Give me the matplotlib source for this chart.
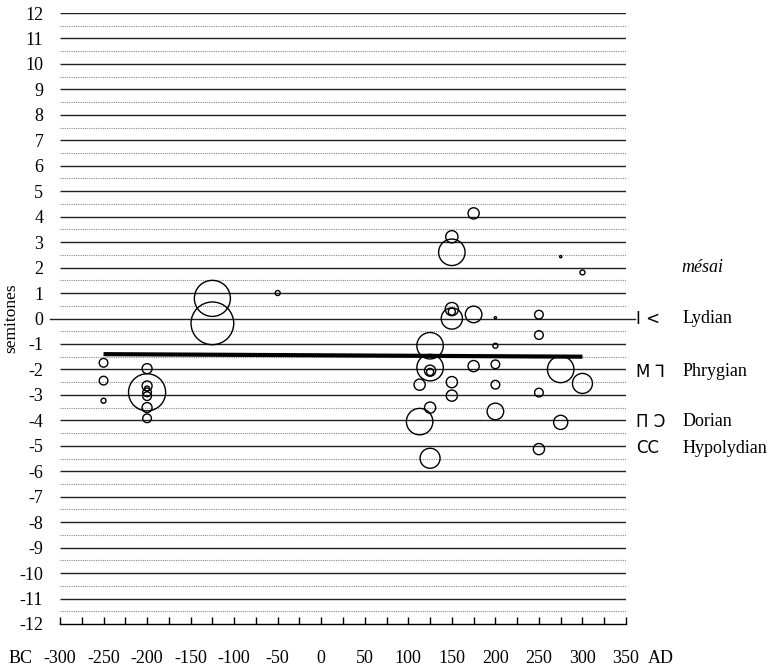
import numpy as np
import matplotlib
matplotlib.use('Agg')
import matplotlib.pyplot as plt

plt.rcParams['axes.unicode_minus'] = False
plt.rcParams['font.family'] = ['Liberation Serif', 'DejaVu Serif']

# --- data ---
year = [-250, -250, -250,
        -200, -200, -200, -200, -200, -200, -200, -200,
        -125, -125,
        -50,
        113, 113,
        125, 125, 125, 125, 125, 125,
        150, 150, 150, 150, 150, 150, 150,
        175, 175, 175,
        200, 200, 200, 200, 200,
        250, 250, 250, 250,
        275, 275, 275,
        300, 300]
semitones = [-1.74, -2.44, -3.23,
             -1.97, -2.65, -2.75, -2.9, -3.05, -2.9, -3.5, -3.92,
             0.79, -0.19,
             1.0,
             -2.6, -4.05,
             -1.07, -1.93, -2.05, -2.1, -3.5, -5.49,
             3.21, 2.6, 0.37, 0.27, 0.0, -2.5, -3.03,
             4.13, 0.16, -1.87,
             0.03, -1.07, -1.8, -2.6, -3.65,
             0.15, -0.65, -2.91, -5.13,
             2.43, -2.0, -4.08,
             1.81, -2.55]
count = [3, 3, 1,
         4, 4, 1, 3, 3, 55, 4, 3,
         52, 73,
         1,
         5, 28,
         28, 28, 5, 2, 5, 16,
         6, 28, 7, 2, 18, 5, 5,
         5, 11, 5,
         0.2, 1, 3, 3, 11,
         3, 3, 3, 5,
         0.2, 28, 8,
         1, 16]

trend_x = [-250, 300]
trend_y = [-1.4, -1.5]

xticks = list(range(-300, 351, 50))
yticks = list(range(-12, 13))

modes = ['Lydian', 'Phrygian', 'Dorian', 'Hypolydian']
mode_level = [0, -2.1, -4.05, -5.1]
mode_signs = ['Ι <', 'Μ ⅂', 'Π Ɔ', 'CC']

# --- figure ---
fig = plt.figure(figsize=(7.82, 6.69), dpi=100)
ax = fig.add_axes([60 / 782, 1 - 624 / 669, 566 / 782, 611 / 669])
ax.set_xlim(-300, 350)
ax.set_ylim(-12, 12)

# grid lines: solid at whole semitones, dotted at halves
for y in yticks:
    if y == -12:
        continue
    if y == 0:
        ax.plot([-311, 360], [0, 0], color='#222222', lw=1.0, clip_on=False, zorder=1)
    else:
        ax.hlines(y, -300, 350, color='#222222', lw=1.0, zorder=1)
for y in np.arange(-11.5, 12, 1.0):
    ax.hlines(y, -300, 350, color='#888888', lw=0.8, linestyles=(0, (1, 1)), zorder=1)

# bubbles
sizes = [12.96 * c for c in count]
ax.scatter(year, semitones, s=sizes, facecolors='none', edgecolors='black',
           linewidths=1.0, zorder=3, clip_on=False)

# trend
ax.plot(trend_x, trend_y, color='black', lw=3, zorder=2, solid_capstyle='butt')

# axes styling
for side in ['top', 'right', 'left']:
    ax.spines[side].set_visible(False)
ax.spines['bottom'].set_linewidth(1.0)
ax.set_xticks(xticks)
ax.set_xticks(range(-275, 350, 50), minor=True)
ax.tick_params(axis='x', which='both', direction='in', length=5, width=1, pad=19, labelsize=13)
ax.set_yticks(yticks)
ax.tick_params(axis='y', length=0, pad=12, labelsize=13)
ax.set_ylabel('semitones', fontsize=12.5, labelpad=0)

ax.text(-345, -0.056, 'BC', transform=ax.get_xaxis_transform(), ha='center', va='center', fontsize=13)
ax.text(390, -0.056, 'AD', transform=ax.get_xaxis_transform(), ha='center', va='center', fontsize=13)

# mode labels on the right
ax.text(438, 2.0, 'mésai', style='italic', ha='center', va='center', fontsize=13, clip_on=False)
for name, lvl, sign in zip(modes, mode_level, mode_signs):
    ax.text(362, lvl, sign, family='DejaVu Sans', fontsize=12, ha='left', va='center', clip_on=False)
    ax.text(415, lvl, name, ha='left', va='center', fontsize=13, clip_on=False)

fig.savefig('out.png', dpi=100)
